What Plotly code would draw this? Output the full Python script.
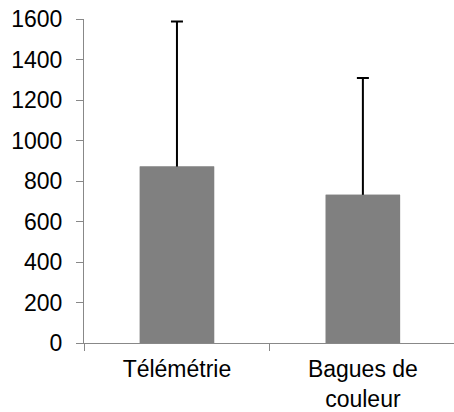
import plotly.graph_objects as go

categories = ["Télémétrie", "Bagues de<br>couleur"]
means = [872, 732]
errors = [716, 577]
y_ticks = [0, 200, 400, 600, 800, 1000, 1200, 1400, 1600]

bar_color = "#808080"
fig = go.Figure()
# error bars (lower end tucked inside the bar, then hidden by the bar drawn on top)
fig.add_trace(go.Bar(
    x=categories, y=means, width=0.4,
    marker=dict(color=bar_color, line=dict(width=0)),
    error_y=dict(type="data", array=errors, symmetric=False, arrayminus=[30, 30],
                 color="black", thickness=2, width=6),
    hoverinfo="skip",
))
fig.add_trace(go.Bar(
    x=categories, y=means, width=0.4,
    marker=dict(color=bar_color, line=dict(width=0)),
    hoverinfo="skip",
))

font = dict(family="Liberation Sans, Arial, sans-serif", size=23, color="black")
fig.update_layout(
    width=454, height=412, barmode="overlay",
    margin=dict(l=84, r=0, t=19, b=69),
    paper_bgcolor="white", plot_bgcolor="white",
    showlegend=False, font=font,
    xaxis=dict(range=[-0.5, 1.49], showline=True, linecolor="#888888", linewidth=1,
               ticks="outside", tickson="boundaries", ticklen=7, tickcolor="#888888",
               showgrid=False, zeroline=False, tickfont=font, automargin=False,
               ticklabelstandoff=5, ticklabeloverflow="allow"),
    yaxis=dict(range=[0, 1600], tickvals=y_ticks, showline=True, linecolor="#888888",
               linewidth=1, ticks="outside", ticklen=7, tickcolor="#888888",
               showgrid=False, zeroline=False, tickfont=font, automargin=False,
               ticklabelstandoff=9, ticklabeloverflow="allow"),
)
fig.write_html("out.html", config={"displayModeBar": False},
               post_script="document.body.style.margin='0';document.body.style.overflow='hidden';")
